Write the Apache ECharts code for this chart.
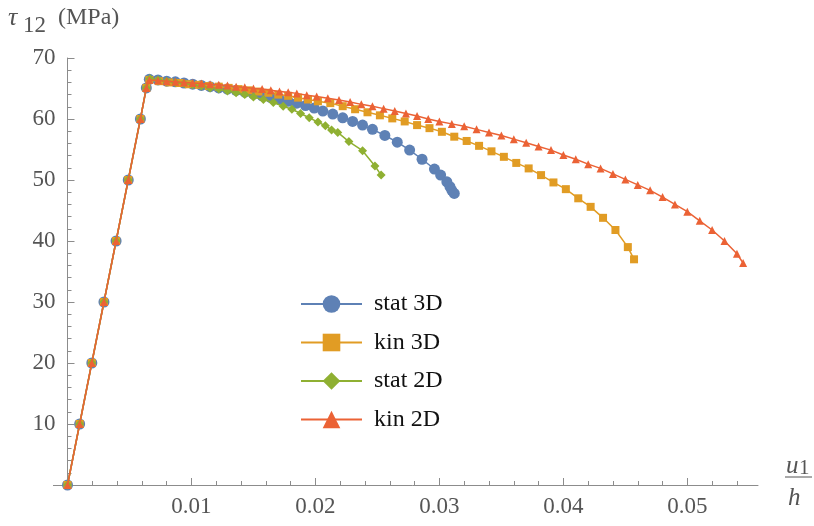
<!DOCTYPE html>
<html>
<head>
<meta charset="utf-8">
<script src="https://cdn.jsdelivr.net/npm/echarts@6/dist/echarts.min.js"></script>
<style>
html,body{margin:0;padding:0;background:#fff;}
#chart{width:814px;height:526px;}
</style>
</head>
<body>
<div id="chart"></div>
<script>
// Shared linear (elastic) part
var linX = [0, 0.00098, 0.00196, 0.00294, 0.00392, 0.0049, 0.00588, 0.00636];
var linY = [0, 10, 20, 30, 40, 50, 60, 65.1];

// stat 3D
var stat3DX = [0.0066,0.0073,0.0080,0.0087,0.0094,0.0101,0.0108,0.0115,0.0122,0.0129,0.0136,0.0143,0.0150,0.0157,0.0164,0.0171,0.0178,0.0185,0.0192,0.0199,0.0206,0.0214,0.0222,0.0230,0.0238,0.0246,0.0256,0.0266,0.0276,0.0286,0.0296,0.0301,0.0306,0.03085,0.0310,0.0312];
var stat3DY = [66.5,66.4,66.2,66.1,65.9,65.7,65.5,65.3,65.1,64.9,64.7,64.4,64.1,63.8,63.5,63.2,62.9,62.6,62.2,61.8,61.3,60.8,60.2,59.6,59.0,58.3,57.3,56.2,54.9,53.4,51.8,50.8,49.7,48.9,48.3,47.8];

// kin 3D
var kin3DX = [0.0066,0.0074,0.0082,0.0090,0.0098,0.0106,0.0114,0.0122,0.0130,0.0138,0.0146,0.0154,0.0162,0.0170,0.0178,0.0186,0.0194,0.0202,0.0212,0.0222,0.0232,0.0242,0.0252,0.0262,0.0272,0.0282,0.0292,0.0302,0.0312,0.0322,0.0332,0.0342,0.0352,0.0362,0.0372,0.0382,0.0392,0.0402,0.0412,0.0422,0.0432,0.0442,0.0452,0.0457];
var kin3DY = [66.4,66.2,66.0,65.9,65.7,65.6,65.4,65.3,65.1,64.9,64.7,64.5,64.3,64.0,63.8,63.5,63.2,62.9,62.6,62.1,61.6,61.1,60.6,60.1,59.6,59.0,58.5,57.9,57.1,56.4,55.6,54.7,53.8,52.8,51.9,50.8,49.6,48.5,47.0,45.6,43.8,41.8,39.0,37.0];

// stat 2D
var stat2DX = [0.00665,0.0073,0.0080,0.0087,0.0094,0.0101,0.0108,0.0115,0.0122,0.0129,0.0136,0.0143,0.0150,0.0158,0.0166,0.0174,0.0181,0.0188,0.0195,0.0202,0.0208,0.0213,0.0218,0.0227,0.0238,0.0248,0.0253];
var stat2DY = [66.6,66.4,66.2,66.0,65.8,65.6,65.4,65.1,64.9,64.6,64.3,64.0,63.6,63.2,62.7,62.1,61.6,60.9,60.2,59.5,58.9,58.2,57.8,56.3,54.8,52.3,50.8];

// kin 2D
var kin2DX = [0.0066,0.0073,0.0080,0.0087,0.0094,0.0101,0.0108,0.0115,0.0122,0.0129,0.0136,0.0143,0.0150,0.0157,0.0164,0.0171,0.0178,0.0185,0.0193,0.0201,0.0210,0.0219,0.0228,0.0237,0.0246,0.0255,0.0264,0.0273,0.0282,0.0291,0.0300,0.0310,0.0320,0.0330,0.0340,0.0350,0.0360,0.0370,0.0380,0.0390,0.0400,0.0410,0.0420,0.0430,0.0440,0.0450,0.0460,0.0470,0.0480,0.0490,0.0500,0.0510,0.0520,0.0530,0.0540,0.0545];
var kin2DY = [66.4,66.3,66.2,66.1,66.0,65.9,65.8,65.7,65.6,65.5,65.3,65.2,65.0,64.9,64.7,64.5,64.4,64.2,63.9,63.7,63.4,63.1,62.8,62.4,62.1,61.7,61.3,60.9,60.5,60.0,59.6,59.2,58.8,58.3,57.8,57.3,56.7,56.1,55.5,54.9,54.1,53.4,52.6,51.9,51.0,50.1,49.2,48.3,47.2,46.0,44.8,43.3,41.8,40.0,37.9,36.4];

var seriesNames = ['stat 3D', 'kin 3D', 'stat 2D', 'kin 2D'];
var xMajorTicks = [0.01, 0.02, 0.03, 0.04, 0.05];
var xMinorTicks = [0.002,0.004,0.006,0.008,0.012,0.014,0.016,0.018,0.022,0.024,0.026,0.028,0.032,0.034,0.036,0.038,0.042,0.044,0.046,0.048,0.052,0.054];
var yMajorTicks = [10, 20, 30, 40, 50, 60, 70];
var yMinorTicks = [2,4,6,8,12,14,16,18,22,24,26,28,32,34,36,38,42,44,46,48,52,54,56,58,62,64,66,68];

function pairs(xs, ys) {
  var out = [];
  for (var i = 0; i < linX.length; i++) out.push([linX[i], linY[i]]);
  for (var j = 0; j < xs.length; j++) out.push([xs[j], ys[j]]);
  return out;
}

var FONT = '"Liberation Serif", "Times New Roman", serif';
var AX = '#8c8c8c';
var LBL = '#555555';
var colors = ['#5E81B5', '#E19C24', '#8FB032', '#EB6235'];
var symbols = ['circle', 'rect', 'diamond', 'triangle'];
var sizes = [11, 8, 9, 8];
var datas = [pairs(stat3DX, stat3DY), pairs(kin3DX, kin3DY), pairs(stat2DX, stat2DY), pairs(kin2DX, kin2DY)];

var series = [];
for (var k = 0; k < 4; k++) {
  series.push({
    name: seriesNames[k],
    type: 'line',
    xAxisIndex: 0,
    yAxisIndex: 0,
    data: datas[k],
    symbol: symbols[k],
    symbolSize: sizes[k],
    showAllSymbol: true,
    color: colors[k],
    itemStyle: { color: colors[k] },
    lineStyle: { color: colors[k], width: 1.5 },
    z: 2 + k,
    clip: false,
    animation: false
  });
}

var chart = echarts.init(document.getElementById('chart'), null, { renderer: 'canvas' });
chart.setOption({
  animation: false,
  backgroundColor: '#ffffff',
  color: colors,
  grid: { left: 67.5, right: 56, top: 58, bottom: 41, containLabel: false },
  legend: {
    orient: 'vertical',
    left: 295,
    top: 287,
    itemWidth: 61,
    itemHeight: 22,
    itemGap: 14.5,
    data: seriesNames,
    textStyle: { fontFamily: FONT, fontSize: 24, color: '#111', padding: [0, 0, 0, 7] }
  },
  xAxis: [
    {
      type: 'value', min: 0, max: 0.0557, position: 'bottom',
      axisLine: { show: true, onZero: false, lineStyle: { color: AX, width: 1 } },
      axisTick: { show: true, inside: true, length: 7, customValues: xMajorTicks, lineStyle: { color: AX } },
      axisLabel: { show: true, customValues: xMajorTicks, margin: 10, color: LBL, fontFamily: FONT, fontSize: 23,
        formatter: function (v) { return (Math.round(v * 100) / 100).toFixed(2); } },
      splitLine: { show: false }
    },
    {
      type: 'value', min: 0, max: 0.0557, position: 'bottom',
      axisLine: { show: false },
      axisTick: { show: true, inside: true, length: 4, customValues: xMinorTicks, lineStyle: { color: AX } },
      axisLabel: { show: false },
      splitLine: { show: false }
    }
  ],
  yAxis: [
    {
      type: 'value', min: 0, max: 70, position: 'left',
      axisLine: { show: true, onZero: false, lineStyle: { color: AX, width: 1 } },
      axisTick: { show: true, inside: true, length: 7, customValues: yMajorTicks, lineStyle: { color: AX } },
      axisLabel: { show: true, customValues: yMajorTicks, margin: 12, color: LBL, fontFamily: FONT, fontSize: 23 },
      splitLine: { show: false }
    },
    {
      type: 'value', min: 0, max: 70, position: 'left',
      axisLine: { show: false, onZero: false },
      axisTick: { show: true, inside: true, length: 4, customValues: yMinorTicks, lineStyle: { color: AX } },
      axisLabel: { show: false },
      splitLine: { show: false }
    }
  ],
  graphic: [
    { type: 'line', shape: { x1: 53, y1: 485.5, x2: 67.5, y2: 485.5 }, style: { stroke: AX, lineWidth: 1 } },
    { type: 'text', x: 8, y: 18, style: { text: 'τ', font: 'italic 26px ' + FONT, fill: LBL, verticalAlign: 'middle' } },
    { type: 'text', x: 23, y: 26, style: { text: '12', font: '23px ' + FONT, fill: LBL, verticalAlign: 'middle' } },
    { type: 'text', x: 58, y: 18, style: { text: '(MPa)', font: '24px ' + FONT, fill: LBL, verticalAlign: 'middle' } },
    { type: 'text', x: 786, y: 466, style: { text: 'u', font: 'italic 25px ' + FONT, fill: LBL, verticalAlign: 'middle' } },
    { type: 'text', x: 799, y: 468, style: { text: '1', font: '21px ' + FONT, fill: LBL, verticalAlign: 'middle' } },
    { type: 'line', shape: { x1: 785, y1: 477, x2: 812, y2: 477 }, style: { stroke: LBL, lineWidth: 1 } },
    { type: 'text', x: 788, y: 498, style: { text: 'h', font: 'italic 25px ' + FONT, fill: LBL, verticalAlign: 'middle' } }
  ],
  series: series
});
</script>
</body>
</html>
